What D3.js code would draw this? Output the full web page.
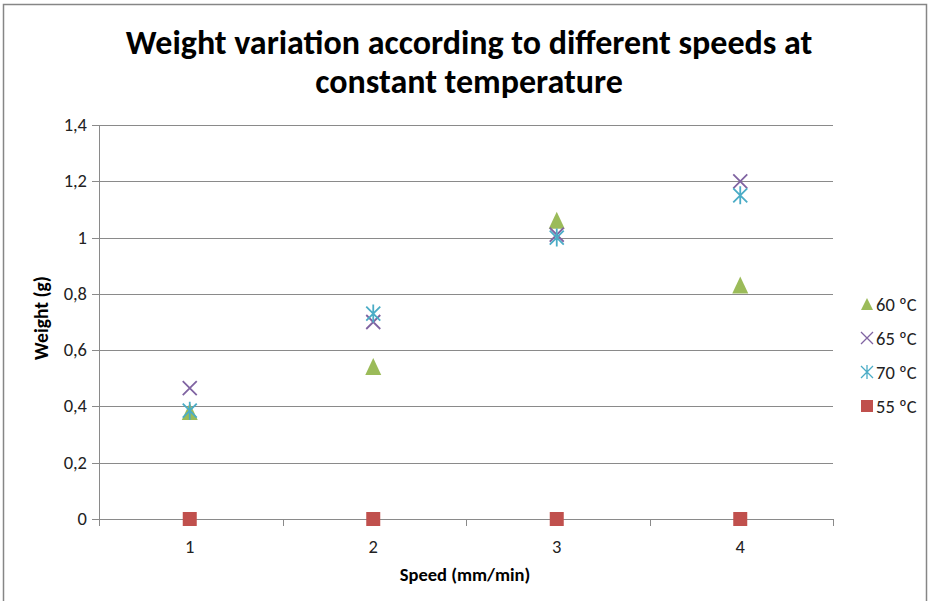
<!DOCTYPE html>
<html>
<head>
<meta charset="utf-8">
<script src="https://cdn.jsdelivr.net/npm/d3@7"></script>
<style>
  body { margin: 0; background: #fff; }
  text { font-family: Carlito, "Liberation Sans", Arial, sans-serif; }
</style>
</head>
<body>
<script>
var speeds = [1, 2, 3, 4];
var seriesNames = ['60 ºC', '65 ºC', '70 ºC', '55 ºC'];
var w60 = [0.38, 0.54, 1.06, 0.83];
var w65 = [0.465, 0.70, 1.01, 1.20];
var w70 = [0.385, 0.73, 1.00, 1.15];
var w55 = [0, 0, 0, 0];
var yTicks = [0, 0.2, 0.4, 0.6, 0.8, 1, 1.2, 1.4];

var series = [
  {name: seriesNames[0], values: w60, color: '#9bbb59', shape: 'triangle'},
  {name: seriesNames[1], values: w65, color: '#8064a2', shape: 'cross'},
  {name: seriesNames[2], values: w70, color: '#4bacc6', shape: 'star'},
  {name: seriesNames[3], values: w55, color: '#c0504d', shape: 'square'},
];

var width = 930, height = 601;
var plotLeft = 99, plotRight = 833, plotTop = 125, plotBottom = 519;

var svg = d3.select('body').append('svg')
  .attr('width', width)
  .attr('height', height);

// chart frame
svg.append('rect')
  .attr('x', 3.5).attr('y', 4.5)
  .attr('width', 923).attr('height', 620)
  .attr('fill', 'none')
  .attr('stroke', '#868686')
  .attr('stroke-width', 1.5);

var x = d3.scaleBand().domain(speeds).range([plotLeft, plotRight]);
var y = d3.scaleLinear().domain([0, 1.4]).range([plotBottom, plotTop]);

// horizontal gridlines
svg.append('g').selectAll('line')
  .data(yTicks)
  .enter().append('line')
  .attr('x1', plotLeft - 7).attr('x2', plotRight)
  .attr('y1', function(d) { return Math.round(y(d)) + 0.5; })
  .attr('y2', function(d) { return Math.round(y(d)) + 0.5; })
  .attr('stroke', '#8a8a8a');

// y axis line
svg.append('line')
  .attr('x1', plotLeft + 0.5).attr('x2', plotLeft + 0.5)
  .attr('y1', plotTop).attr('y2', plotBottom)
  .attr('stroke', '#8a8a8a');

// y tick labels (comma decimals)
svg.append('g').selectAll('text')
  .data(yTicks)
  .enter().append('text')
  .attr('x', plotLeft - 12)
  .attr('y', function(d) { return y(d) + 6; })
  .attr('text-anchor', 'end')
  .attr('font-size', 18.5)
  .attr('fill', '#222')
  .text(function(d) { return String(d).replace('.', ','); });

// x tick marks at band edges
var edges = speeds.map(function(s) { return x(s); }).concat([plotRight]);
svg.append('g').selectAll('line')
  .data(edges)
  .enter().append('line')
  .attr('x1', function(d) { return Math.round(d) + 0.5; })
  .attr('x2', function(d) { return Math.round(d) + 0.5; })
  .attr('y1', plotBottom).attr('y2', plotBottom + 7)
  .attr('stroke', '#8a8a8a');

svg.append('g').selectAll('text')
  .data(speeds)
  .enter().append('text')
  .attr('x', function(d) { return x(d) + x.bandwidth() / 2 - 1; })
  .attr('y', plotBottom + 34)
  .attr('text-anchor', 'middle')
  .attr('font-size', 18.5)
  .attr('fill', '#222')
  .text(function(d) { return d; });

// axis titles
svg.append('text')
  .attr('x', 465).attr('y', 581)
  .attr('text-anchor', 'middle')
  .attr('font-size', 18.5)
  .attr('font-weight', 'bold')
  .text('Speed (mm/min)');

svg.append('text')
  .attr('transform', 'translate(48,318) rotate(-90)')
  .attr('text-anchor', 'middle')
  .attr('font-size', 19.5)
  .attr('font-weight', 'bold')
  .text('Weight (g)');

// title
var title = svg.append('text')
  .attr('text-anchor', 'middle')
  .attr('font-size', 34)
  .attr('font-weight', 'bold');
title.append('tspan').attr('x', 469).attr('y', 54)
  .text('Weight variation according to different speeds at');
title.append('tspan').attr('x', 469).attr('y', 93)
  .text('constant temperature');

function drawMarker(g, shape, color, cx, cy) {
  if (shape === 'triangle') {
    g.append('path')
      .attr('d', 'M' + cx + ',' + (cy - 9) + 'L' + (cx + 8) + ',' + (cy + 8) + 'L' + (cx - 8) + ',' + (cy + 8) + 'Z')
      .attr('fill', color);
  } else if (shape === 'square') {
    g.append('rect')
      .attr('x', cx - 7).attr('y', cy - 7)
      .attr('width', 14).attr('height', 14)
      .attr('fill', color);
  } else if (shape === 'cross') {
    g.append('path')
      .attr('d', 'M' + (cx - 7) + ',' + (cy - 7) + 'L' + (cx + 7) + ',' + (cy + 7) +
                 'M' + (cx + 7) + ',' + (cy - 7) + 'L' + (cx - 7) + ',' + (cy + 7))
      .attr('stroke', color).attr('stroke-width', 1.8).attr('fill', 'none');
  } else {
    g.append('path')
      .attr('d', 'M' + (cx - 7) + ',' + (cy - 7) + 'L' + (cx + 7) + ',' + (cy + 7) +
                 'M' + (cx + 7) + ',' + (cy - 7) + 'L' + (cx - 7) + ',' + (cy + 7) +
                 'M' + cx + ',' + (cy - 9) + 'L' + cx + ',' + (cy + 9))
      .attr('stroke', color).attr('stroke-width', 1.8).attr('fill', 'none');
  }
}

var marks = svg.append('g');
series.forEach(function(s) {
  s.values.forEach(function(v, i) {
    drawMarker(marks, s.shape, s.color, x(speeds[i]) + x.bandwidth() / 2 - 1, y(v));
  });
});

// legend
var legend = svg.append('g');
series.forEach(function(s, i) {
  var ly = 304 + i * 34;
  var g = legend.append('g');
  if (s.shape === 'triangle') {
    g.append('path')
      .attr('d', 'M867,' + (ly - 6) + 'L873,' + (ly + 6) + 'L861,' + (ly + 6) + 'Z')
      .attr('fill', s.color);
  } else if (s.shape === 'square') {
    g.append('rect').attr('x', 861).attr('y', ly - 6).attr('width', 12).attr('height', 12).attr('fill', s.color);
  } else {
    var d = 'M861,' + (ly - 6) + 'L873,' + (ly + 6) + 'M873,' + (ly - 6) + 'L861,' + (ly + 6);
    if (s.shape === 'star') d += 'M867,' + (ly - 7) + 'L867,' + (ly + 7);
    g.append('path').attr('d', d).attr('stroke', s.color).attr('stroke-width', 1.3).attr('fill', 'none');
  }
  g.append('text')
    .attr('x', 876).attr('y', ly + 7)
    .attr('font-size', 18.5)
    .attr('fill', '#222')
    .text(s.name);
});
</script>
</body>
</html>
